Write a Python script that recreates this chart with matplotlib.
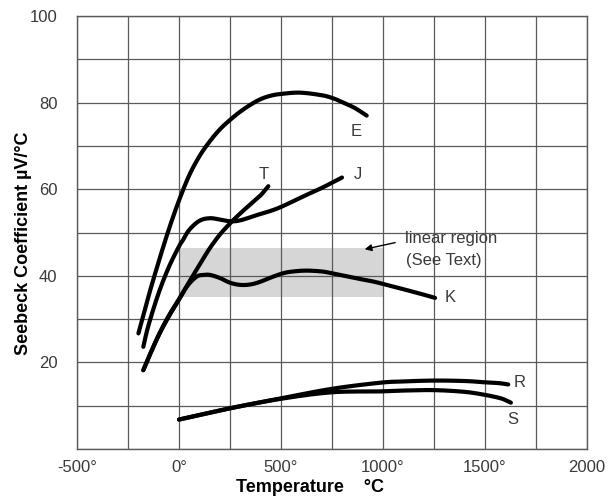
import matplotlib
matplotlib.use("Agg")
import matplotlib.pyplot as plt
import numpy as np

# ---- data ----
E_t = [-199, -150, -100, -50, 0, 50, 100, 150, 200, 250, 300, 350, 400, 450, 500, 593, 700, 755, 800, 860, 920]
E_s = [26.7, 35.2, 43.2, 50.7, 57.4, 63.2, 67.6, 71.0, 73.8, 76.0, 77.9, 79.5, 80.8, 81.6, 82.0, 82.3, 81.7, 81.0, 80.1, 78.8, 77.0]

J_t = [-175, -150, -100, -50, 0, 20, 50, 100, 150, 200, 250, 300, 380, 431, 500, 593, 700, 799]
J_s = [23.6, 28.5, 36.0, 42.0, 46.8, 48.3, 50.6, 52.7, 53.3, 53.0, 52.6, 52.8, 54.0, 54.7, 55.9, 58.0, 60.3, 62.7]

T_t = [-175, -150, -100, -50, 0, 29, 50, 100, 150, 200, 250, 300, 350, 400, 438]
T_s = [18.2, 21.0, 26.3, 30.8, 34.6, 36.9, 38.6, 42.5, 46.3, 49.5, 52.1, 54.4, 56.5, 58.6, 60.7]

K_t = [-175, -150, -100, -50, 0, 40, 86, 120, 152, 200, 250, 300, 350, 397, 450, 511, 560, 625, 700, 748, 800, 871, 950, 1018, 1100, 1180, 1255]
K_s = [18.2, 21.0, 26.2, 30.6, 34.5, 37.6, 39.8, 40.2, 40.2, 39.5, 38.4, 37.9, 38.0, 38.6, 39.6, 40.6, 41.0, 41.2, 41.0, 40.6, 40.1, 39.4, 38.7, 37.9, 36.9, 35.9, 34.9]

R_t = [0, 250, 500, 750, 985, 1100, 1250, 1400, 1500, 1570, 1614]
R_s = [6.8, 9.4, 11.7, 13.9, 15.3, 15.6, 15.8, 15.7, 15.4, 15.2, 14.9]

S_t = [0, 250, 500, 750, 985, 1100, 1250, 1400, 1500, 1570, 1600, 1627]
S_s = [6.8, 9.4, 11.6, 13.1, 13.3, 13.5, 13.6, 13.2, 12.5, 11.8, 11.3, 10.7]

curve_names = ["E", "J", "T", "K", "R", "S"]
label_t = [871, 876, 413, 1328, 1672, 1636]
label_s = [73.3, 63.4, 63.3, 34.9, 15.3, 6.9]

linear_t = [0, 1000]
linear_s_low = 35.0
linear_s_high = 46.5

x_ticks = [-500, 0, 500, 1000, 1500, 2000]
x_ticklabels = ["-500°", "0°", "500°", "1000°", "1500°", "2000"]
y_ticks = [20, 40, 60, 80, 100]
y_ticklabels = ["20", "40", "60", "80", "100"]


def smooth_path(ax, t, s, n=12):
    """Draw a smooth (Catmull-Rom) path through the read points, in display space."""
    pts = ax.transData.transform(np.column_stack([t, s]))
    P = np.vstack([2 * pts[0] - pts[1], pts, 2 * pts[-1] - pts[-2]])
    out = []
    u = np.linspace(0, 1, n, endpoint=False)[:, None]
    for i in range(1, len(P) - 2):
        p0, p1, p2, p3 = P[i - 1], P[i], P[i + 1], P[i + 2]
        seg = 0.5 * ((2 * p1) + (-p0 + p2) * u + (2 * p0 - 5 * p1 + 4 * p2 - p3) * u ** 2
                     + (-p0 + 3 * p1 - 3 * p2 + p3) * u ** 3)
        out.append(seg)
    out.append(P[-2][None, :])
    out = np.vstack(out)
    return ax.transData.inverted().transform(out)


# ---- figure ----
plt.rcParams['font.family'] = ['Liberation Sans', 'DejaVu Sans']
fig = plt.figure(figsize=(6.12, 4.97), dpi=100)
ax = fig.add_axes([77/612, 1 - 449/497, (587 - 77)/612, (449 - 16)/497])

ax.set_xlim(-500, 2000)
ax.set_ylim(0, 100)

# grid
grid_col = "#5a5a5a"
ax.set_xticks(x_ticks)
ax.set_xticklabels(x_ticklabels)
ax.set_yticks(y_ticks)
ax.set_yticklabels(y_ticklabels)
ax.set_xticks(np.arange(-500, 2001, 250), minor=True)
ax.set_yticks(np.arange(0, 101, 10), minor=True)
ax.grid(True, which="both", color=grid_col, linewidth=0.9)
ax.set_axisbelow(True)
for sp in ax.spines.values():
    sp.set_color(grid_col)
    sp.set_linewidth(1.0)

ax.tick_params(which="both", length=0)
ax.tick_params(axis="x", pad=8, labelsize=12, labelcolor="#3a3a3a")
ax.tick_params(axis="y", pad=14, labelsize=12, labelcolor="#3a3a3a")

# linear region
ax.fill_between(linear_t, linear_s_low, linear_s_high, color="#d6d6d6", zorder=0.3, linewidth=0)

# curves
lw = 3.0
for t, s in [(E_t, E_s), (J_t, J_s), (T_t, T_s), (K_t, K_s), (R_t, R_s), (S_t, S_s)]:
    xy = smooth_path(ax, t, s)
    ax.plot(xy[:, 0], xy[:, 1], color="black", linewidth=lw, solid_capstyle="round",
            solid_joinstyle="round", zorder=3)

for name, lt, ls in zip(curve_names, label_t, label_s):
    ax.text(lt, ls, name, fontsize=12, color="#3a3a3a", ha="center", va="center", zorder=4)

# annotation
ax.annotate("", xy=(897, 46.0), xytext=(1073, 47.8),
            arrowprops=dict(arrowstyle="-|>", color="black", lw=1.0, mutation_scale=10))
ax.text(1108, 48.7, "linear region", fontsize=12, color="#3a3a3a", ha="left", va="center")
ax.text(1112, 43.6, "(See Text)", fontsize=12, color="#3a3a3a", ha="left", va="center")

# axis labels
lab_font = ['Liberation Sans', 'DejaVu Sans']
fig.text(310/612, 1 - 487/497, "Temperature    °C", fontsize=13, fontweight="bold",
         family=lab_font, ha="center", va="center")
fig.text(24/612, 1 - 243/497, "Seebeck Coefficient µV/°C", fontsize=13, fontweight="bold",
         family=lab_font, ha="center", va="center", rotation=90)

fig.savefig("out.png", dpi=100)
